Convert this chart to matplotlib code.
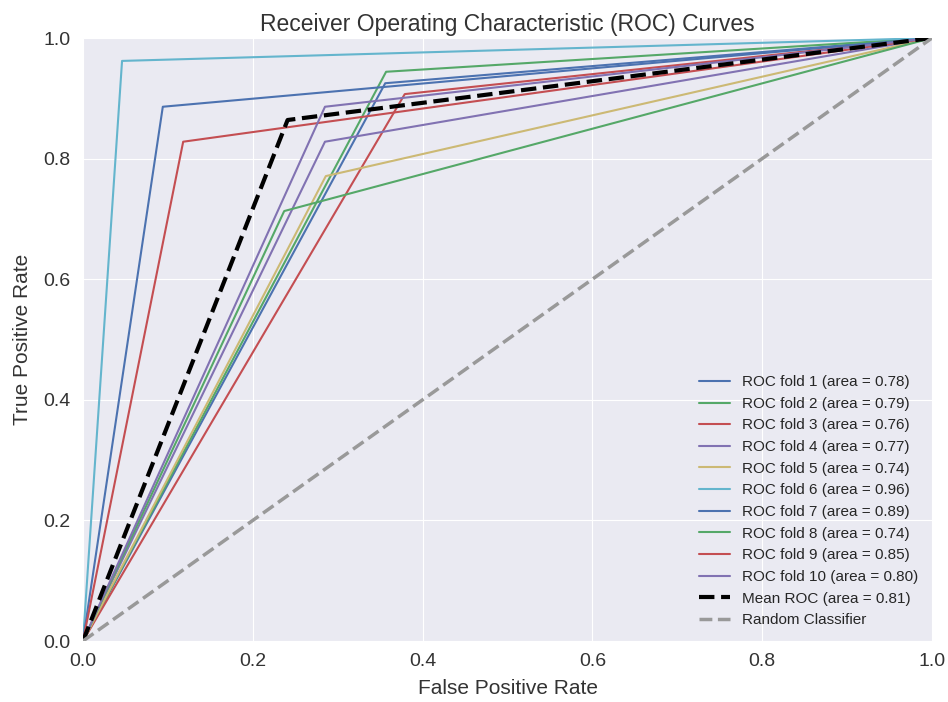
import numpy as np
import matplotlib.pyplot as plt

plt.style.use('seaborn-v0_8-darkgrid')
plt.rcParams['font.family'] = ['Liberation Sans', 'DejaVu Sans']

# kink point of each fold's ROC curve (fpr, tpr), curves run (0,0) -> kink -> (1,1)
fold_fpr = [0.356, 0.357, 0.379, 0.285, 0.286, 0.046, 0.094, 0.237, 0.118, 0.285]
fold_tpr = [0.925, 0.944, 0.907, 0.828, 0.771, 0.962, 0.886, 0.713, 0.828, 0.886]
fold_auc = [0.78, 0.79, 0.76, 0.77, 0.74, 0.96, 0.89, 0.74, 0.85, 0.80]

mean_fpr = [0.0, 0.241, 1.0]
mean_tpr = [0.0, 0.864, 1.0]
mean_auc = 0.81

colors = ["#4C72B0", "#55A868", "#C44E52", "#8172B2", "#CCB974", "#64B5CD"]

fig = plt.figure(figsize=(9.48, 7.02), dpi=100)
ax = fig.add_axes([83/948, 1 - 641/702, (932-83)/948, (641-38)/702])

for i in range(len(fold_fpr)):
    ax.plot([0, fold_fpr[i], 1], [0, fold_tpr[i], 1], lw=1.5,
            color=colors[i % len(colors)],
            label='ROC fold %d (area = %0.2f)' % (i + 1, fold_auc[i]))

ax.plot(mean_fpr, mean_tpr, 'k--', lw=3, label='Mean ROC (area = %0.2f)' % mean_auc)
ax.plot([0, 1], [0, 1], '--', color=(0.6, 0.6, 0.6), lw=2.5, label='Random Classifier')

ax.set_xlim(0, 1)
ax.set_ylim(0, 1)
ax.tick_params(labelsize=14, colors='#333333', pad=9)
ax.set_xlabel('False Positive Rate', fontsize=15, color='#333333', labelpad=6)
ax.set_ylabel('True Positive Rate', fontsize=15, color='#333333', labelpad=8)
ax.set_title('Receiver Operating Characteristic (ROC) Curves', fontsize=16.5, color='#333333', pad=5)
ax.legend(loc='lower right', fontsize=11)

fig.savefig('out.png', dpi=100)
